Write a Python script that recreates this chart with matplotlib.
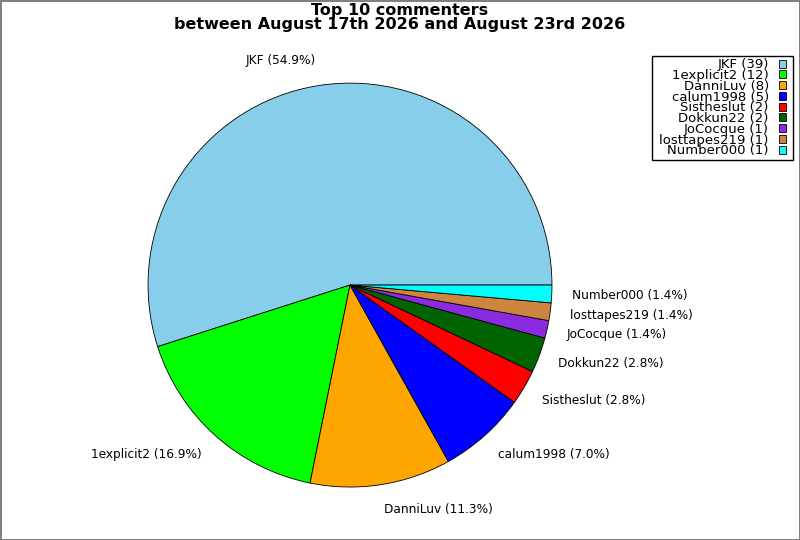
import matplotlib
matplotlib.use("Agg")
import matplotlib.pyplot as plt
from matplotlib.patches import Rectangle
from matplotlib.transforms import IdentityTransform

# datos del grafico
nombres = ["JKF", "1explicit2", "DanniLuv", "calum1998", "Sistheslut",
           "Dokkun22", "JoCocque", "losttapes219", "Number000"]
comentarios = [39, 12, 8, 5, 2, 2, 1, 1, 1]
colores = ["skyblue", "lime", "orange", "blue", "red",
           "darkgreen", "blueviolet", "peru", "cyan"]

total = sum(comentarios)
etiquetas = [f"{n} ({c / total * 100:.1f}%)" for n, c in zip(nombres, comentarios)]
leyenda = [f"{n} ({c})" for n, c in zip(nombres, comentarios)]

fig = plt.figure(figsize=(8, 5.4), dpi=100, edgecolor="#808080", linewidth=1)
# circulo de radio ~202 px centrado en (350, 285)
ax = fig.add_axes([0.1219, 0.0046, 0.6312, 0.935])

cunas, textos = ax.pie(comentarios, labels=etiquetas, colors=colores, startangle=0,
                       counterclock=True, labeldistance=1.1,
                       wedgeprops=dict(edgecolor="black", linewidth=0.6),
                       textprops=dict(fontsize=8.7))
# las etiquetas van un poco mas lejos en vertical
for t in textos:
    x, y = t.get_position()
    t.set_position((x, y * 1.125 / 1.1))
ax.set_aspect("equal")

fig.text(0.5, 0.9945, "Top 10 commenters\nbetween August 17th 2026 and August 23rd 2026",
         ha="center", va="top", fontsize=11.5, fontweight="bold", linespacing=0.915)

# leyenda sin marco; el marco se dibuja aparte con mas margen a los lados
leg = fig.legend(cunas, leyenda, loc="upper right", bbox_to_anchor=(0.9825, 0.892),
                 fontsize=9.5, markerfirst=False, frameon=False,
                 handlelength=0.55, handleheight=0.55, handletextpad=0.75,
                 labelspacing=-0.17, borderpad=0, borderaxespad=0)
fig.canvas.draw()
bb = leg.get_window_extent()
marco = Rectangle((bb.x0 - 7, bb.y0 - 2.5), bb.width + 14, bb.height + 4.5,
                  transform=IdentityTransform(), facecolor="white",
                  edgecolor="black", linewidth=1, zorder=4)
fig.add_artist(marco)

fig.savefig("out.png", dpi=100)
